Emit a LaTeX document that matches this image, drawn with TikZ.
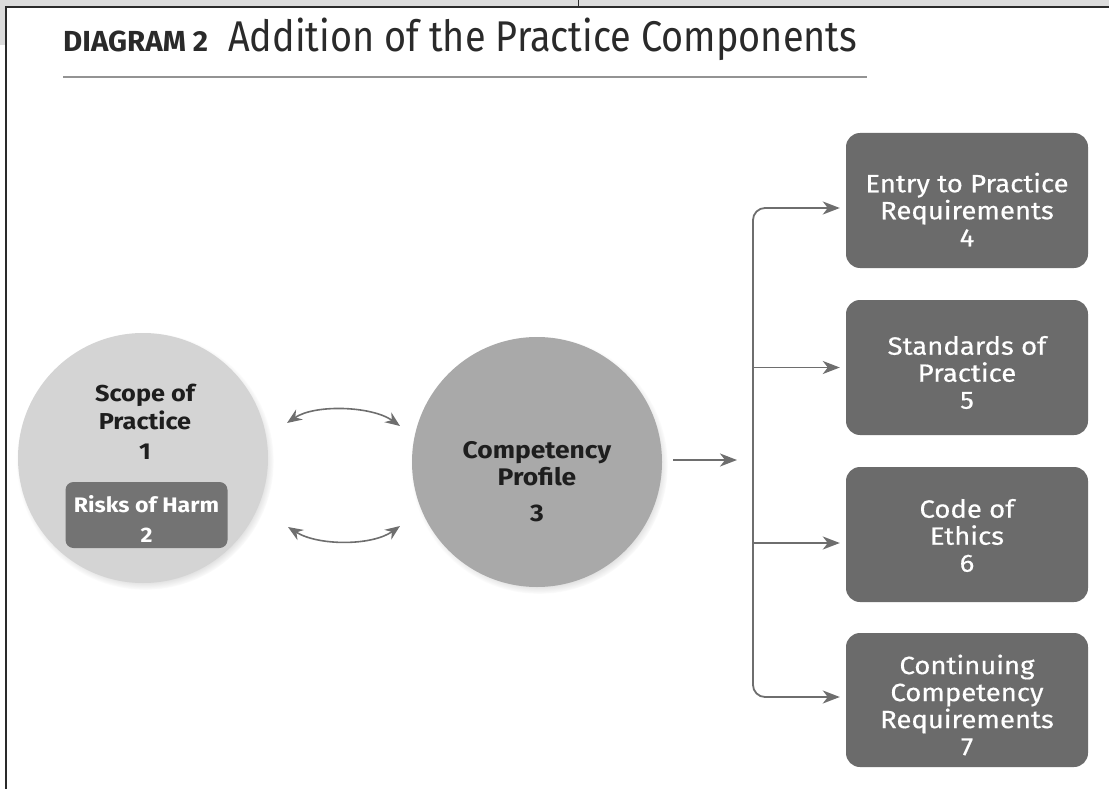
\documentclass[tikz,border=0pt]{standalone}
\usepackage{graphicx}
\usepackage{fontspec}
\setmainfont{Fira Sans}[FakeStretch=1.1]
\newfontfamily\boxfont{Fira Sans}[FakeStretch=1.1, FakeBold=0.4]
\usetikzlibrary{arrows.meta,shadows,calc}

\definecolor{stripgray}{HTML}{DCDCDC}
\definecolor{framedark}{HTML}{2A2A2A}
\definecolor{scopefill}{HTML}{D4D4D4}
\definecolor{compfill}{HTML}{A9A9A9}
\definecolor{boxfill}{HTML}{6B6B6B}
\definecolor{riskfill}{HTML}{737373}
\definecolor{arrowgray}{HTML}{6E6E6E}
\definecolor{textdark}{HTML}{1E1E1E}
\definecolor{rulegray}{HTML}{939393}

\begin{document}
\begin{tikzpicture}[x=1pt,y=-1pt,
  tip/.style={-{Stealth[length=17pt,width=13pt,inset=5pt]}},
  arr/.style={draw=arrowgray, line width=1.8pt, tip},
  biarr/.style={draw=arrowgray, line width=1.6pt,
    {Stealth[length=15pt,width=12pt,inset=5pt]}-{Stealth[length=15pt,width=12pt,inset=5pt]}},
  bigcircle/.style={circle, minimum size=250pt, inner sep=0pt,
    circular drop shadow={shadow xshift=2pt, shadow yshift=-3pt, shadow scale=1.03, opacity=0.55}},
  circtext/.style={text=textdark, align=center, inner sep=0pt, font=\bfseries},
  pbox/.style={rectangle, rounded corners=14pt, fill=boxfill, minimum width=242pt,
    minimum height=135pt, inner sep=0pt},
  ptext/.style={text=white, align=center, inner sep=0pt, font=\boxfont\fontsize{25}{27}\selectfont},
]
\useasboundingbox (0,0) rectangle (1109,789);

% page frame
\fill[stripgray] (0,0) rectangle (1109,7);
\fill[stripgray] (0,0) rectangle (6,45);
\draw[framedark, line width=1pt] (578,0) -- (578,7);
\draw[framedark, line width=2.6pt] (1109,7) -- (6,7) -- (6,789);

% heading
\node[anchor=base west, inner sep=0pt, text=framedark] (tag) at (63,52)
  {\resizebox{145pt}{\height}{\fontsize{29}{32}\selectfont\bfseries DIAGRAM 2}};
\node[anchor=base west, inner sep=0pt, text=framedark] (title) at (228,52)
  {\resizebox{629pt}{\height}{\fontsize{43}{48}\selectfont Addition of the Practice Components}};
\draw[rulegray, line width=1.5pt] (63,77) -- (867,77);

% the two circles
\node[bigcircle, fill=scopefill] (scope) at (143,458) {};
\node[bigcircle, fill=compfill] (comp) at (537,462) {};

\node[circtext, font=\fontsize{23}{28}\selectfont\bfseries] (scopetxt) at (145,422)
  {Scope of\\Practice\\[2pt]1};
\node[rectangle, rounded corners=8pt, fill=riskfill, minimum width=162pt,
  minimum height=66pt, inner sep=0pt] (risks) at (146.5,515) {};
\node[text=white, align=center, inner sep=0pt, font=\fontsize{21}{30}\selectfont\bfseries]
  (riskstxt) at (146.5,519) {Risks of Harm\\2};

\node[circtext, font=\fontsize{24}{27}\selectfont\bfseries] (comptxt) at (537,482)
  {Competency\\Profile\\[9pt]3};

% two-way links between the circles
\coordinate (st) at ($(scope.center)+(144,-35)$);
\coordinate (ct) at ($(comp.center)+(-137,-36)$);
\coordinate (sb) at ($(scope.center)+(145,69)$);
\coordinate (cb) at ($(comp.center)+(-137,64)$);
\draw[biarr] (st) .. controls (315,404) and (372,406) .. (ct);
\draw[biarr] (sb) .. controls (318,546) and (372,546) .. (cb);

% the four practice boxes
\node[pbox] (b4) at (967,200.5) {};
\node[pbox] (b5) at (967,367.5) {};
\node[pbox] (b6) at (967,534.5) {};
\node[pbox, minimum height=134pt] (b7) at (967,700) {};

\node[ptext] (t4) at ($(b4.center)+(0,9)$) {Entry to Practice\\Requirements\\4};
\node[ptext] (t5) at ($(b5.center)+(0,5)$) {Standards of\\Practice\\5};
\node[ptext] (t6) at ($(b6.center)+(0,1)$) {Code of\\Ethics\\6};
\node[ptext] (t7) at ($(b7.center)+(0,5)$) {Continuing\\Competency\\Requirements\\7};

% distribution bus
\coordinate (hub) at (753,460);
\draw[arr, shorten <=11pt, shorten >=16pt] (comp.east |- hub) -- (hub);
\coordinate (e4) at ($(b4.west)+(0,7.5)$);
\coordinate (e5) at (b5.west);
\coordinate (e6) at ($(b6.west)+(0,8.5)$);
\coordinate (e7) at ($(b7.west)+(0,-3)$);
\draw[arr, rounded corners=12pt, shorten >=6pt] (hub) |- (e4);
\draw[arr, rounded corners=12pt, shorten >=6pt] (hub) |- (e7);
\draw[arr, shorten >=6pt] (hub |- e5) -- (e5);
\draw[arr, shorten >=6pt] (hub |- e6) -- (e6);
\end{tikzpicture}
\end{document}
